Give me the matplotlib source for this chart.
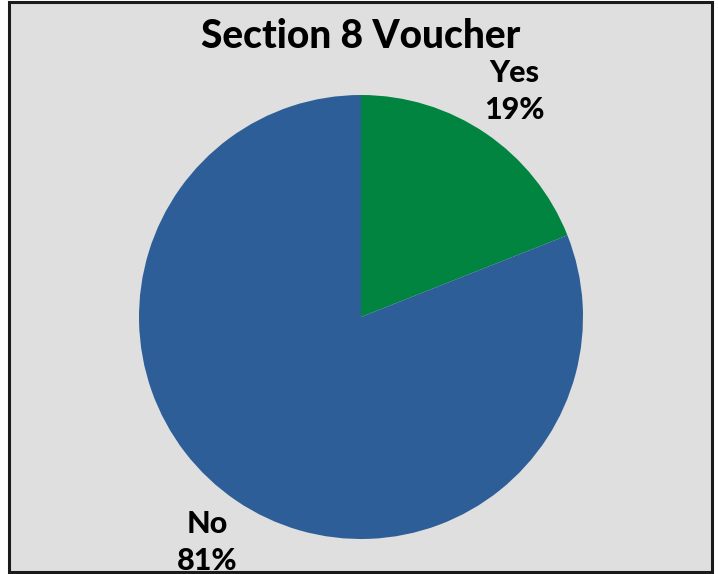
import matplotlib.pyplot as plt
from matplotlib.patches import Rectangle

title = "Section 8 Voucher"
categories = ["Yes", "No"]
shares = [19, 81]
colors = ["#00843F", "#2E5E98"]

plt.rcParams['font.family'] = ['Lato', 'DejaVu Sans']

fig = plt.figure(figsize=(7.18, 5.74), dpi=100)
fig.patch.set_facecolor("white")
ax = fig.add_axes([0, 0, 1, 1])

# grey frame with dark border
ax.add_patch(Rectangle((9, 2), 703, 570, facecolor="#E0DFE0",
                       edgecolor="#1a1a1a", linewidth=2.2, zorder=0))

labels = [f"{c}\n{s}%" for c, s in zip(categories, shares)]
wedges, texts = ax.pie(shares, labels=labels, colors=colors, startangle=90,
                       counterclock=False, center=(361, 257), radius=222,
                       labeldistance=1.23, frame=True,
                       textprops=dict(fontsize=22, fontweight="black",
                                      color="black", linespacing=1.4))
for t in texts:
    t.set_horizontalalignment("center")
    t.set_verticalalignment("center")
ax.set_xlim(0, 718)
ax.set_ylim(0, 574)
ax.set_aspect("equal")
ax.axis("off")

ax.text(361, 537, title, ha="center", va="center", fontsize=28,
        fontweight="black", color="black")

fig.savefig("out.png", dpi=100)
